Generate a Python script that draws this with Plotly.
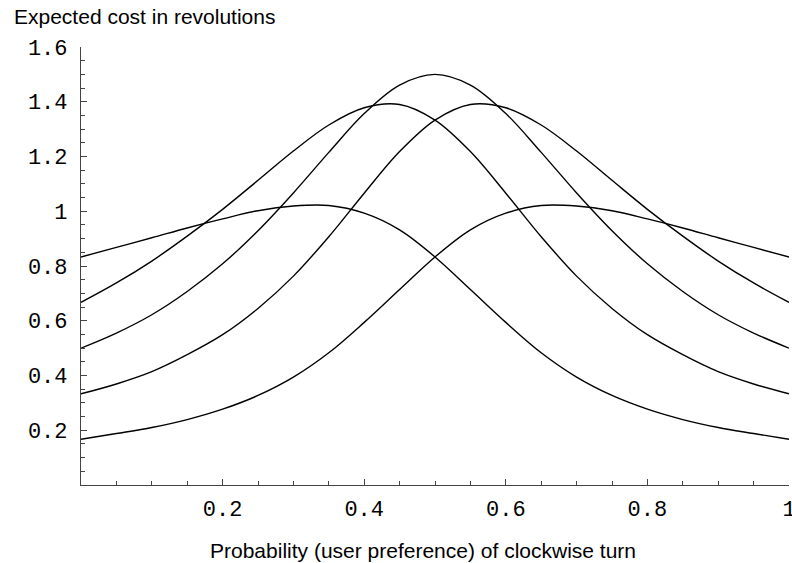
import plotly.graph_objects as go

# Probability (user preference) of clockwise turn
p = [0.00, 0.05, 0.10, 0.15, 0.20, 0.25, 0.30, 0.35, 0.40, 0.45, 0.50,
     0.55, 0.60, 0.65, 0.70, 0.75, 0.80, 0.85, 0.90, 0.95, 1.00]

# Expected cost in revolutions, one curve per starting distance
cost_d1 = [0.167, 0.188, 0.210, 0.239, 0.277, 0.327, 0.394, 0.483, 0.594, 0.714, 0.833,
           0.932, 0.993, 1.021, 1.019, 1.002, 0.972, 0.939, 0.903, 0.868, 0.833]
cost_d2 = [0.333, 0.369, 0.414, 0.476, 0.549, 0.645, 0.763, 0.907, 1.066, 1.218, 1.333,
           1.390, 1.378, 1.315, 1.220, 1.113, 1.007, 0.909, 0.818, 0.738, 0.667]
cost_d3 = [0.500, 0.555, 0.622, 0.707, 0.808, 0.929, 1.067, 1.215, 1.357, 1.461, 1.500,
           1.461, 1.357, 1.215, 1.067, 0.929, 0.808, 0.707, 0.622, 0.555, 0.500]
cost_d4 = [0.667, 0.738, 0.818, 0.909, 1.007, 1.113, 1.220, 1.315, 1.378, 1.390, 1.333,
           1.218, 1.066, 0.907, 0.763, 0.645, 0.549, 0.476, 0.414, 0.369, 0.333]
cost_d5 = [0.833, 0.868, 0.903, 0.939, 0.972, 1.002, 1.019, 1.021, 0.993, 0.932, 0.833,
           0.714, 0.594, 0.483, 0.394, 0.327, 0.277, 0.239, 0.210, 0.188, 0.167]

series = [cost_d1, cost_d2, cost_d3, cost_d4, cost_d5]

x_tick_vals = [0.2, 0.4, 0.6, 0.8, 1.0]
x_tick_text = ["0.2", "0.4", "0.6", "0.8", "1"]
y_tick_vals = [0.2, 0.4, 0.6, 0.8, 1.0, 1.2, 1.4, 1.6]
y_tick_text = ["0.2", "0.4", "0.6", "0.8", "1", "1.2", "1.4", "1.6"]

y_title = "Expected cost in revolutions"
x_title = "Probability (user preference) of clockwise turn"

fig = go.Figure()
for s in series:
    fig.add_trace(go.Scatter(x=p, y=s, mode="lines",
                             line=dict(color="black", width=1.4, shape="spline", smoothing=1.0),
                             hoverinfo="skip"))

mono = dict(family="Liberation Mono, Courier New, monospace", size=22, color="black")
sans = dict(family="Liberation Sans, Arial, Helvetica, sans-serif", size=21, color="black")
axcol = "#444444"

fig.update_layout(
    width=792, height=563,
    margin=dict(l=81, r=3, t=47, b=78, autoexpand=False),
    plot_bgcolor="white", paper_bgcolor="white",
    showlegend=False,
    xaxis=dict(range=[0, 1], showline=True, linecolor=axcol, linewidth=1.2,
               ticks="inside", ticklen=6, tickwidth=1, tickcolor=axcol,
               tickmode="array", tickvals=x_tick_vals, ticktext=x_tick_text,
               tickfont=mono, showgrid=False, zeroline=False, ticklabelstandoff=3,
               automargin=False, ticklabeloverflow="allow",
               minor=dict(ticks="inside", ticklen=3.5, tickwidth=1, tickcolor=axcol,
                          tick0=0, dtick=0.05, showgrid=False)),
    yaxis=dict(range=[0, 1.6], showline=True, linecolor=axcol, linewidth=1.2,
               ticks="inside", ticklen=6, tickwidth=1, tickcolor=axcol,
               tickmode="array", tickvals=y_tick_vals, ticktext=y_tick_text,
               tickfont=mono, showgrid=False, zeroline=False, ticklabelstandoff=8,
               automargin=False, ticklabeloverflow="allow",
               minor=dict(ticks="inside", ticklen=3.5, tickwidth=1, tickcolor=axcol,
                          tick0=0, dtick=0.05, showgrid=False)),
    annotations=[
        dict(text=y_title, xref="paper", yref="paper", x=(12 - 81) / 708, y=(485 - 17) / 438,
             xanchor="left", yanchor="middle", showarrow=False, font=sans),
        dict(text=x_title, xref="paper", yref="paper", x=(422.5 - 81) / 708, y=(485 - 550) / 438,
             xanchor="center", yanchor="middle", showarrow=False, font=sans),
    ],
)

fig.write_html("out.html", config={"displayModeBar": False},
               post_script="document.body.style.margin='0';")
